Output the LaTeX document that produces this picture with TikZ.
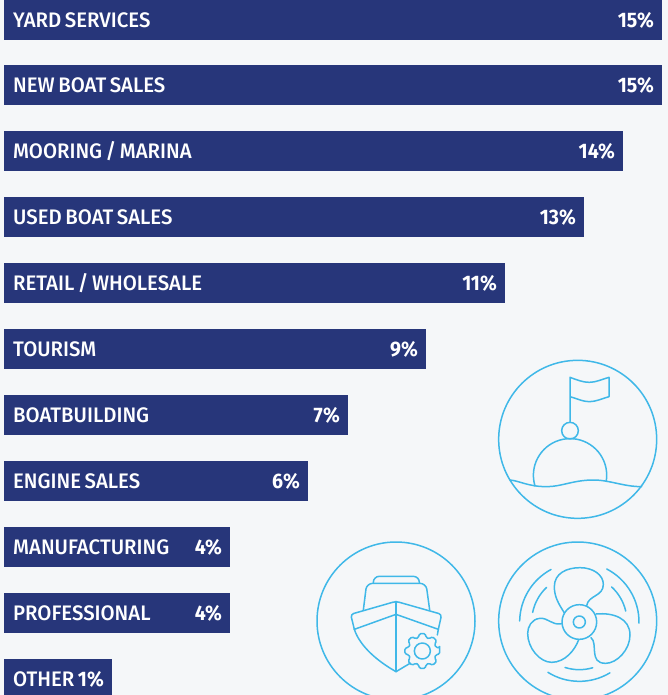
\documentclass[tikz,border=0pt]{standalone}
\usepackage{fontspec}
\setmainfont{Fira Sans Medium}[FakeStretch=0.97,BoldFont={Fira Sans Bold},BoldFeatures={FakeStretch=0.93},WordSpace=0.7]
\definecolor{navy}{HTML}{27367A}
\definecolor{paper}{HTML}{F5F7F9}
\definecolor{sky}{HTML}{3FB8E8}
\tikzset{
  barbox/.style={fill=navy,draw=none,inner sep=0pt,anchor=north west},
  barlabel/.style={text=white,anchor=base west,inner sep=0pt,font=\fontsize{21}{21}\selectfont},
  barpct/.style={text=white,anchor=base east,inner sep=0pt,font=\fontsize{21}{21}\selectfont\bfseries},
  icon/.style={draw=sky,line width=1.5pt,line cap=round,line join=round},
  iconscope/.style={x=0.33333pt,y=-0.33333pt}
}
\newcommand{\statbar}[6]{% name, top, right, height, label, pct
  \node[barbox,minimum width=#3pt-4pt,minimum height=#4pt] (#1) at (4,#2) {};
  \node[barlabel] (#1l) at (13,#2+27.5) {#5};
  \node[barpct] (#1p) at (#3-8,#2+27.5) {#6};
}
\begin{document}
\begin{tikzpicture}[x=1pt,y=-1pt]
\useasboundingbox (0,0) rectangle (668,695);
\fill[paper] (0,0) rectangle (668,695);
\statbar{a}{0}{662}{40}{YARD SERVICES}{15\%}
\statbar{b}{65}{662}{40}{NEW BOAT SALES}{15\%}
\statbar{c}{131}{623}{40}{MOORING / MARINA}{14\%}
\statbar{d}{197}{584}{40}{USED BOAT SALES}{13\%}
\statbar{e}{263}{505}{40}{RETAIL / WHOLESALE}{11\%}
\statbar{f}{329}{426}{40}{TOURISM}{9\%}
\statbar{g}{395}{348}{40}{BOATBUILDING}{7\%}
\statbar{h}{461}{308}{40}{ENGINE SALES}{6\%}
\statbar{i}{527}{230}{40}{MANUFACTURING}{4\%}
\statbar{j}{593}{230}{40}{PROFESSIONAL}{4\%}
\statbar{k}{659}{112}{36}{OTHER}{1\%}
% buoy
\begin{scope}[shift={(490,350)},iconscope]
\draw[icon] (263,268) circle[radius=237];
\draw[icon] (240,215) -- (240,82) .. controls (262,90) and (278,97) .. (298,97) .. controls (318,97) and (335,88) .. (357,82) -- (357,140) .. controls (335,146) and (318,155) .. (298,155) .. controls (278,155) and (262,146) .. (240,140);
\draw[icon] (240,242) circle[radius=25];
\draw[icon] (135,408) arc[start angle=163,end angle=369.4,radius=110];
\draw[icon] (60,390) .. controls (90,393) and (115,410) .. (170,410) .. controls (215,410) and (250,390) .. (310,390) .. controls (360,390) and (400,410) .. (455,410);
\end{scope}
% boat
\begin{scope}[shift={(310,535)},iconscope]
\draw[icon] (258,258) circle[radius=237];
\draw[icon,rounded corners=6pt] (190,143) -- (190,124) -- (328,124) -- (328,143);
\draw[icon,rounded corners=6pt] (160,225) -- (170,145) -- (348,145) -- (359,225);
\draw[icon,rounded corners=3pt] (133,283) -- (122,238) -- (258,199) -- (395,238) -- (385,283);
\draw[icon] (133,283) .. controls (150,335) and (205,380) .. (258,410) -- (300,385);
\draw[icon] (385,283) -- (382,300);
\draw[icon] (258,199) -- (258,410);
\draw[icon] (133,283) -- (258,238) -- (385,283);
\begin{scope}[shift={(337,348)}]
\draw[icon] (0,0) circle[radius=24];
\draw[icon,rounded corners=1.5pt] (-10:53)
  \foreach \t in {0,45,...,315} { -- (\t-10:53) -- (\t+10:53) -- (\t+15:42) -- (\t+30:42) } -- cycle;
\end{scope}
\end{scope}
% propeller
\begin{scope}[shift={(490,535)},iconscope]
\draw[icon] (263,258) circle[radius=237];
\draw[icon] (268,261) circle[radius=52];
\draw[icon] (268,261) circle[radius=18];
\draw[icon] (222,232) .. controls (205,205) and (193,185) .. (193,155) .. controls (193,115) and (230,98) .. (270,98) .. controls (310,98) and (340,120) .. (340,148) .. controls (340,185) and (295,180) .. (290,212);
\draw[icon] (318,237) .. controls (370,232) and (420,250) .. (420,300) .. controls (420,345) and (380,385) .. (347,385) .. controls (295,385) and (325,325) .. (303,308);
\draw[icon] (215,266) .. controls (185,272) and (175,248) .. (150,250) .. controls (125,252) and (113,275) .. (113,295) .. controls (113,340) and (150,382) .. (185,382) .. controls (225,382) and (255,345) .. (266,314);
\draw[icon] (268,261) ++(181:179) arc[start angle=181,end angle=241.7,radius=179];
\draw[icon] (268,261) ++(297.4:179) arc[start angle=297.4,end angle=361,radius=179];
\draw[icon] (268,261) ++(59:178) arc[start angle=59,end angle=122,radius=178];
\draw[icon] (268,261) ++(191.7:143) arc[start angle=191.7,end angle=226.7,radius=143];
\draw[icon] (268,261) ++(312.5:143) arc[start angle=312.5,end angle=346.7,radius=143];
\draw[icon] (268,261) ++(73.7:143) arc[start angle=73.7,end angle=107.5,radius=143];
\end{scope}
\end{tikzpicture}
\end{document}
